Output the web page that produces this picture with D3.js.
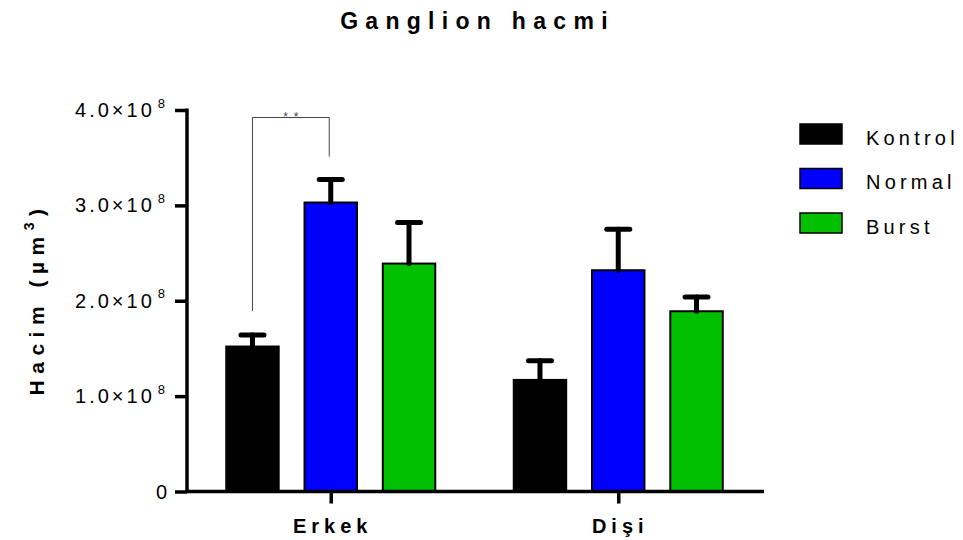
<!DOCTYPE html>
<html>
<head>
<meta charset="utf-8">
<script src="https://cdn.jsdelivr.net/npm/d3@7"></script>
<style>
  html, body { margin: 0; padding: 0; background: #fff; }
  svg { display: block; font-family: "Liberation Sans", Arial, sans-serif; }
</style>
</head>
<body>
<svg id="chart" width="963" height="540"></svg>
<script>
// Ganglion volume by sex and stimulation group (mean ± SEM, µm³)
const groups = ["Erkek", "Dişi"];
const series = ["Kontrol", "Normal", "Burst"];
const colors = ["#000000", "#0000ff", "#00c000"];
const means = {
  "Erkek": [1.52e8, 3.03e8, 2.39e8],
  "Dişi":  [1.17e8, 2.32e8, 1.89e8]
};
const sems = {
  "Erkek": [0.12e8, 0.24e8, 0.43e8],
  "Dişi":  [0.20e8, 0.43e8, 0.15e8]
};
const yTicks = [0, 1e8, 2e8, 3e8, 4e8];
const yTickMantissa = ["0", "1.0×10", "2.0×10", "3.0×10", "4.0×10"];
const yTickExponent = ["", "8", "8", "8", "8"];
// significance comparison: Erkek Kontrol vs Erkek Normal
const sigPair = { group: "Erkek", from: "Kontrol", to: "Normal", label: "**" };

const svg = d3.select("#chart");

const y = d3.scaleLinear().domain([0, 4e8]).range([491.5, 110]);
const x = d3.scalePoint().domain(groups).range([187, 762]).padding(0.5);
const xs = d3.scaleBand().domain(series).range([-104.5, 104.5])
  .paddingInner(0.33).paddingOuter(0);

// Title
svg.append("text")
  .attr("x", 474 + 3.5).attr("y", 28.5)
  .attr("text-anchor", "middle")
  .attr("font-size", 23).attr("font-weight", "bold")
  .attr("letter-spacing", 7.3)
  .text("Ganglion hacmi");

// Bars
const rows = [];
groups.forEach(g => series.forEach((s, i) => rows.push({ g, s, i, v: means[g][i], e: sems[g][i] })));

svg.append("g").selectAll("rect").data(rows).join("rect")
  .attr("x", d => x(d.g) + xs(d.s))
  .attr("y", d => y(d.v))
  .attr("width", xs.bandwidth())
  .attr("height", d => y(0) - y(d.v))
  .attr("fill", d => colors[d.i])
  .attr("stroke", "#000").attr("stroke-width", 2);

// Error bars (upper SEM)
const eb = svg.append("g").attr("stroke", "#000").attr("stroke-width", 5).attr("stroke-linecap", "round");
rows.forEach(d => {
  const cx = x(d.g) + xs(d.s) + xs.bandwidth() / 2;
  eb.append("line").attr("x1", cx).attr("x2", cx).attr("y1", y(d.v)).attr("y2", y(d.v + d.e));
  eb.append("line").attr("x1", cx - 11.5).attr("x2", cx + 11.5).attr("y1", y(d.v + d.e)).attr("y2", y(d.v + d.e));
});

// Y axis
const yAxis = svg.append("g").attr("transform", "translate(187,0)")
  .call(d3.axisLeft(y).tickValues(yTicks).tickSize(12).tickFormat(""));
yAxis.select(".domain").attr("stroke-width", 3.5).attr("d", `M0,${y(0) + 1.5}V${y(4e8) - 1.5}`);
yAxis.selectAll(".tick line").attr("stroke-width", 3.5);

const yl = svg.append("g");
yTicks.forEach((t, i) => {
  const txt = yl.append("text")
    .attr("x", yTickExponent[i] ? 168 : 170)
    .attr("y", y(t) + 7)
    .attr("text-anchor", "end")
    .attr("font-size", 20)
    .attr("letter-spacing", 3);
  txt.append("tspan").text(yTickMantissa[i]);
  if (yTickExponent[i]) {
    txt.append("tspan").attr("font-size", 13).attr("dy", -9.5).attr("dx", 3).text(yTickExponent[i]);
  }
});

// X axis
const xAxis = svg.append("g").attr("transform", `translate(0,${y(0)})`)
  .call(d3.axisBottom(x).tickSize(12).tickSizeOuter(0).tickFormat(""));
xAxis.select(".domain").attr("stroke-width", 3.5).attr("d", "M185.5,0H764");
xAxis.selectAll(".tick line").attr("stroke-width", 3.5);

svg.append("g").selectAll("text").data(groups).join("text")
  .attr("x", d => x(d) + 2)
  .attr("y", 533)
  .attr("text-anchor", "middle")
  .attr("font-size", 20).attr("font-weight", "bold")
  .attr("letter-spacing", 5)
  .text(d => d);

// Y axis title
svg.append("text")
  .attr("transform", "translate(44,299) rotate(-90)")
  .attr("text-anchor", "middle")
  .attr("font-size", 21).attr("font-weight", "bold")
  .attr("letter-spacing", 6.5)
  .call(t => {
    t.append("tspan").text("Hacim (µm");
    t.append("tspan").attr("font-size", 14).attr("dy", -10).text("3");
    t.append("tspan").attr("dy", 10).text(")");
  });

// Significance bracket
{
  const gi = sigPair.group;
  const i0 = series.indexOf(sigPair.from), i1 = series.indexOf(sigPair.to);
  const x0 = x(gi) + xs(sigPair.from) + xs.bandwidth() / 2;
  const x1 = x(gi) + xs(sigPair.to) + xs.bandwidth() / 2 - 1.5;
  const top = y(4e8) + 7.5;
  const b0 = y(means[gi][i0] + sems[gi][i0]) - 24;
  const b1 = y(means[gi][i1] + sems[gi][i1]) - 23;
  svg.append("path")
    .attr("d", `M${x0},${b0}V${top}H${x1}V${b1}`)
    .attr("fill", "none").attr("stroke", "#444").attr("stroke-width", 1);
  svg.append("text")
    .attr("x", (x0 + x1) / 2 + 3).attr("y", top + 3)
    .attr("text-anchor", "middle")
    .attr("font-size", 12).attr("fill", "#444")
    .attr("letter-spacing", 6)
    .text(sigPair.label);
}

// Legend
const lg = svg.append("g").attr("transform", "translate(800,124)");
series.forEach((s, i) => {
  const row = lg.append("g").attr("transform", `translate(0,${i * 44.5})`);
  row.append("rect").attr("width", 42).attr("height", 20)
    .attr("fill", colors[i]).attr("stroke", "#000").attr("stroke-width", 1.5);
  row.append("text").attr("x", 66).attr("y", 20.5)
    .attr("font-size", 20).attr("letter-spacing", 4.2)
    .text(s);
});
</script>
</body>
</html>
